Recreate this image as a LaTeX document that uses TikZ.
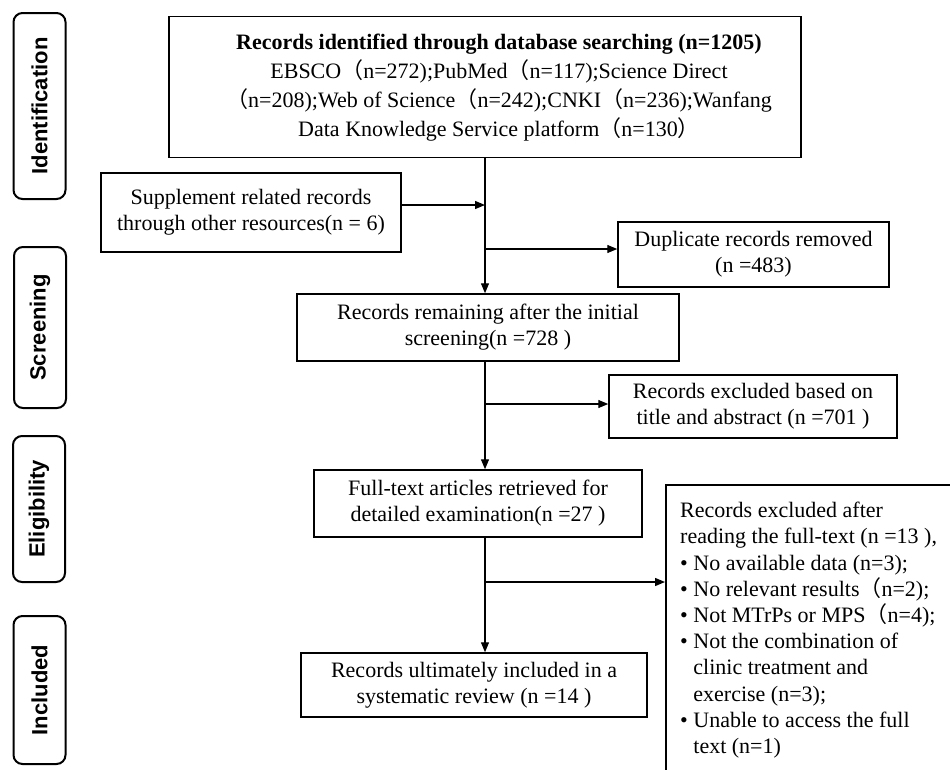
\documentclass[tikz,border=0pt]{standalone}
\usepackage{fontspec}
\setmainfont{Liberation Serif}
\setsansfont{Liberation Sans}
\newfontfamily\cjkfont{Noto Sans CJK SC}
\usetikzlibrary{arrows.meta}
\newcommand\fwl{{\cjkfont （}}
\newcommand\fwr{{\cjkfont ）}}
\newcommand\bul{\textbullet\ }
\newcommand\ind{\hphantom{\textbullet\ }}
\begin{document}
\begin{tikzpicture}[x=1pt,y=-1pt,
  box/.style={draw, line width=1.5pt, align=center, inner sep=0pt, font=\fontsize{22}{26}\selectfont},
  stage/.style={draw, line width=2pt, rounded corners=9pt, rotate=90, inner sep=0pt, font=\sffamily\bfseries\fontsize{22}{26}\selectfont},
  arr/.style={line width=1.3pt, -{Triangle[length=10pt,width=8pt]}}]
\useasboundingbox (0,0) rectangle (950,769);
% stage labels
\node[stage, minimum width=186, minimum height=52] (sid) at (39.5,106) {Identification};
\node[stage, minimum width=161, minimum height=52] (ssc) at (40,327.5) {Screening};
\node[stage, minimum width=146, minimum height=52] (sel) at (39,509) {Eligibility};
\node[stage, minimum width=148, minimum height=52] (sin) at (39.5,690) {Included};
% boxes
\node[draw, line width=1.5pt, inner sep=0pt, minimum width=632, minimum height=141, font=\fontsize{22}{29}\selectfont] (rec) at (485,87)
 {\hspace*{28pt}\begin{tabular}{@{}c@{}}
  \textbf{Records identified through database searching (n=1205)}\\
  EBSCO\fwl n=272);PubMed\fwl n=117);Science Direct\\
  \fwl n=208);Web of Science\fwl n=242);CNKI\fwl n=236);Wanfang\\
  Data Knowledge Service platform\fwl n=130\fwr
  \end{tabular}};
\node[box, minimum width=300, minimum height=79] (sup) at (251,212.5)
 {Supplement related records\\through other resources(n = 6)};
\node[box, minimum width=271, minimum height=65] (dup) at (753.5,254.5)
 {Duplicate records removed\\(n =483)};
\node[box, minimum width=382, minimum height=67] (rem) at (488,327.5)
 {Records remaining after the initial\\screening(n =728 )};
\node[box, minimum width=288, minimum height=63] (ex2) at (753,406.5)
 {Records excluded based on\\title and abstract (n =701 )};
\node[box, minimum width=328, minimum height=67] (full) at (478,503.5)
 {Full-text articles retrieved for\\detailed examination(n =27 )};
\node[box, minimum width=346, minimum height=64] (incl) at (474,685)
 {Records ultimately included in a\\systematic review (n =14 )};
\begin{scope}
\clip (0,0) rectangle (950,769);
\node[draw, line width=1.5pt, anchor=north west, minimum width=320, minimum height=320, inner sep=0pt] (ex3) at (665,484) {};
\end{scope}
\node[anchor=north west, align=left, inner sep=0pt, font=\fontsize{22}{26.2}\selectfont] (ex3t) at (680,502)
 {Records excluded after\\
  reading the full-text (n =13 ),\\
  \bul No available data (n=3);\\
  \bul No relevant results\fwl n=2);\\
  \bul Not MTrPs or MPS\fwl n=4);\\
  \bul Not the combination of\\
  \ind clinic treatment and\\
  \ind exercise (n=3);\\
  \bul Unable to access the full\\
  \ind text (n=1)};
% connectors
\coordinate (c1) at (486,205);
\coordinate (c2) at (486,249);
\coordinate (c4) at (486,404);
\coordinate (c3) at (486,582);
\draw[arr] (rec.south) -- (rec.south |- rem.north);
\draw[arr] (sup.east |- c1) -- (c1 -| rec.south);
\draw[arr] (c2 -| rec.south) -- (c2 -| dup.west);
\draw[arr] (rem.south -| rec.south) -- (rec.south |- full.north);
\draw[arr] (c4 -| rec.south) -- (c4 -| ex2.west);
\draw[arr] (full.south -| rec.south) -- (rec.south |- incl.north);
\draw[arr] (c3 -| rec.south) -- (c3 -| ex3.west);
\end{tikzpicture}
\end{document}
